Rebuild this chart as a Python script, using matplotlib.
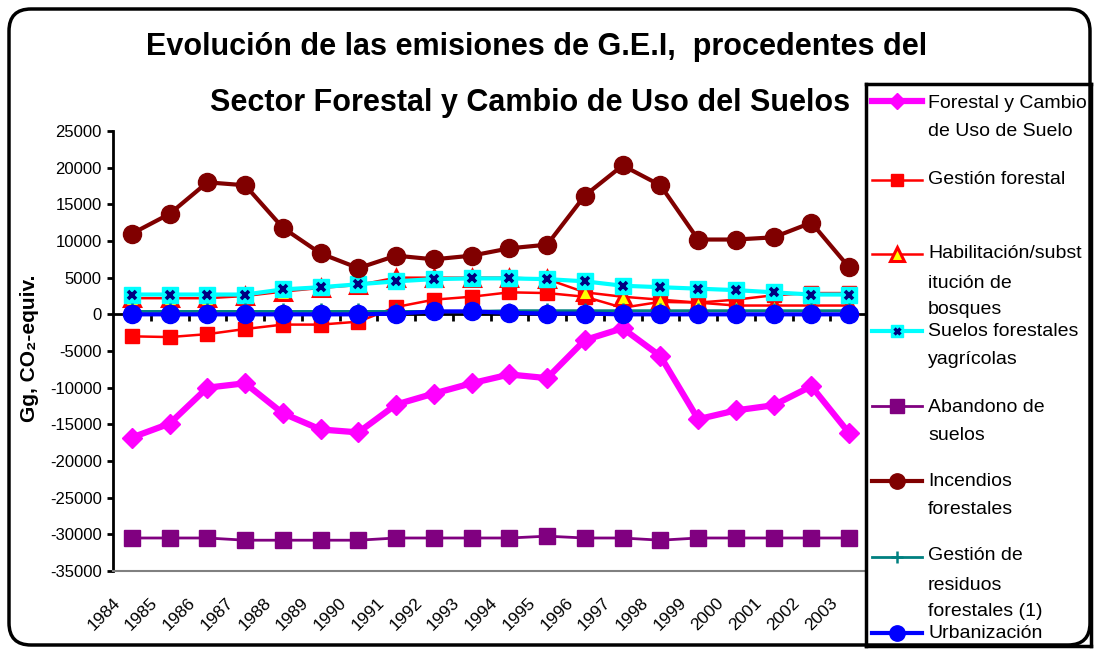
import numpy as np
import matplotlib
matplotlib.use('Agg')
import matplotlib.pyplot as plt
from matplotlib.patches import FancyBboxPatch
from matplotlib.transforms import ScaledTranslation

plt.rcParams['font.family'] = ['Liberation Sans', 'DejaVu Sans']

# ---------------- data ----------------
years = ['1984', '1985', '1986', '1987', '1988', '1989', '1990', '1991', '1992', '1993',
         '1994', '1995', '1996', '1997', '1998', '1999', '2000', '2001', '2002', '2003']

forestal_cambio = [-16800, -14900, -10000, -9400, -13500, -15700, -16100, -12300, -10800, -9400,
                   -8200, -8700, -3500, -1900, -5700, -14300, -13100, -12400, -9800, -16200]
gestion_forestal = [-3000, -3100, -2700, -2000, -1400, -1400, -1000, 1000, 2000, 2400,
                    3000, 2900, 2400, 900, 1700, 1600, 2000, 2600, 2900, 2900]
habilitacion = [2200, 2200, 2200, 2500, 3100, 3600, 4000, 5000, 5000, 5000,
                5000, 4800, 3000, 2400, 2000, 1600, 1200, 1200, 1200, 1200]
suelos_agricolas = [2700, 2700, 2700, 2700, 3400, 3700, 4100, 4500, 4800, 4900,
                    4900, 4800, 4500, 3900, 3700, 3500, 3300, 3000, 2700, 2700]
abandono = [-30500, -30500, -30500, -30800, -30800, -30800, -30800, -30500, -30500, -30500,
            -30500, -30250, -30500, -30500, -30800, -30500, -30500, -30500, -30500, -30500]
incendios = [11000, 13700, 18000, 17600, 11800, 8300, 6300, 8000, 7500, 8000,
             9000, 9500, 16200, 20300, 17600, 10200, 10200, 10500, 12500, 6400]
residuos = [400, 400, 400, 400, 400, 400, 400, 400, 400, 400,
            500, 500, 500, 500, 500, 500, 500, 500, 500, 500]
urbanizacion = [0, 0, 0, 0, 0, 0, 0, 100, 400, 400,
                200, 100, 100, 0, 0, 0, 0, 0, 0, 0]

y_ticks = list(range(-35000, 25001, 5000))

title_line1 = 'Evolución de las emisiones de G.E.I,  procedentes del'
title_line2 = 'Sector Forestal y Cambio de Uso del Suelos'
y_label = 'Gg, CO₂-equiv.'

legend_labels = [
    ['Forestal y Cambio', 'de Uso de Suelo'],
    ['Gestión forestal'],
    ['Habilitación/subst', 'itución de', 'bosques'],
    ['Suelos forestales', 'yagrícolas'],
    ['Abandono de', 'suelos'],
    ['Incendios', 'forestales'],
    ['Gestión de', 'residuos', 'forestales (1)'],
    ['Urbanización'],
]

# ---------------- styles ----------------
styles = [
    dict(color='#FF00FF', lw=4.5, marker='D', ms=10, mfc='#FF00FF', mec='#FF00FF'),
    dict(color='#FF0000', lw=1.8, marker='s', ms=10, mfc='#FF0000', mec='#FF0000'),
    dict(color='#FF0000', lw=1.8, marker='^', ms=12, mfc='#FFFF00', mec='#FF0000', mew=2.2),
    dict(color='#00FFFF', lw=3, marker='s', ms=11, mfc='#00FFFF', mec='#00FFFF'),
    dict(color='#800080', lw=2, marker='s', ms=12, mfc='#800080', mec='#800080'),
    dict(color='#800000', lw=3, marker='o', ms=13, mfc='#800000', mec='#800000'),
    dict(color='#008080', lw=2, marker='+', ms=11, mfc='#008080', mec='#008080', mew=1.8),
    dict(color='#0000FF', lw=3, marker='o', ms=13, mfc='#0000FF', mec='#0000FF'),
]
series = [forestal_cambio, gestion_forestal, habilitacion, suelos_agricolas,
          abandono, incendios, residuos, urbanizacion]

W, H = 1099, 650
fig = plt.figure(figsize=(W / 100, H / 100), dpi=100)
fig.patch.set_facecolor('white')


def fx(px):
    return px / W


def fy(py):
    return 1 - py / H


# outer rounded frame
frame = FancyBboxPatch((9, 5), 1081, 636, boxstyle='round,pad=0,rounding_size=22',
                       transform=None, facecolor='none', edgecolor='black', lw=2.5, zorder=20)
fig.patches.append(frame)

ax = fig.add_axes([fx(113), fy(571), fx(868) - fx(113), fy(131) - fy(571)])
x = np.arange(len(years))

# category axis drawn at zero
ax.axhline(0, color='black', lw=2, zorder=1.5)
ax.vlines(x[:-1] + 0.5, -900, 0, color='black', lw=2, zorder=1.5)

for i, (vals, st) in enumerate(zip(series, styles)):
    ax.plot(x, vals, zorder=3 + i * 0.1, clip_on=False, **st)
    if i == 3:
        ax.plot(x, vals, ls='none', marker='x', ms=6, mec='#000080', mew=2.6,
                zorder=3 + i * 0.1 + 0.05, clip_on=False)

ax.set_xlim(-0.5, len(years) - 0.5)
ax.set_ylim(-35000, 25000)
ax.set_yticks(y_ticks)
ax.set_yticklabels([str(v) for v in y_ticks], fontsize=12)
ax.set_xticks(x)
ax.set_xticklabels(years, fontsize=12.5, rotation=45, ha='right', va='top')
ax.tick_params(axis='x', length=0, pad=17.5)
ax.tick_params(axis='y', length=4, width=2, pad=4, direction='out')
off = ScaledTranslation(-9 / 100, 0, fig.dpi_scale_trans)
for lbl in ax.get_xticklabels():
    lbl.set_transform(lbl.get_transform() + off)

for s in ['top', 'right']:
    ax.spines[s].set_visible(False)
ax.spines['left'].set_linewidth(2)
ax.spines['left'].set_color('black')
ax.spines['bottom'].set_color('#808080')
ax.spines['bottom'].set_linewidth(1.5)
ax.set_facecolor('none')

# titles and axis label
fig.text(fx(537), fy(47), title_line1, fontsize=22, fontweight='bold', ha='center', va='center')
fig.text(fx(210), fy(103), title_line2, fontsize=22, fontweight='bold', ha='left', va='center')
fig.text(fx(30), fy(348), y_label, fontsize=15, fontweight='bold', rotation=90,
         ha='center', va='center')

# ---------------- legend ----------------
lx0, lx1, ly0, ly1 = 866, 1091, 84, 646
lax = fig.add_axes([fx(lx0), fy(ly1), fx(lx1) - fx(lx0), fy(ly0) - fy(ly1)])
lax.set_zorder(10)
lax.set_xlim(lx0, lx1)
lax.set_ylim(ly1, ly0)
lax.set_xticks([])
lax.set_yticks([])
lax.set_facecolor('white')
for s in lax.spines.values():
    s.set_linewidth(2.5)
    s.set_color('black')

handle_y = [101, 180, 254, 331, 406, 481, 557, 633]
line_y = [[103, 132], [180], [254, 283, 310], [331, 360], [407, 435], [482, 510],
          [556, 585, 611], [633]]
for i, st in enumerate(styles):
    hy = handle_y[i]
    lst = dict(st)
    lst['ms'] = st['ms'] * 0.85
    lax.plot([872, 922], [hy, hy], color=st['color'], lw=st['lw'], clip_on=False)
    lax.plot([897], [hy], ls='none', **{k: v for k, v in lst.items() if k not in ('color', 'lw')})
    if i == 3:
        lax.plot([897], [hy], ls='none', marker='x', ms=5, mec='#000080', mew=2.4)
    for txt, ty in zip(legend_labels[i], line_y[i]):
        lax.text(928, ty, txt, fontsize=14, ha='left', va='center', clip_on=True)

fig.savefig('out.png', dpi=100, facecolor='white')
